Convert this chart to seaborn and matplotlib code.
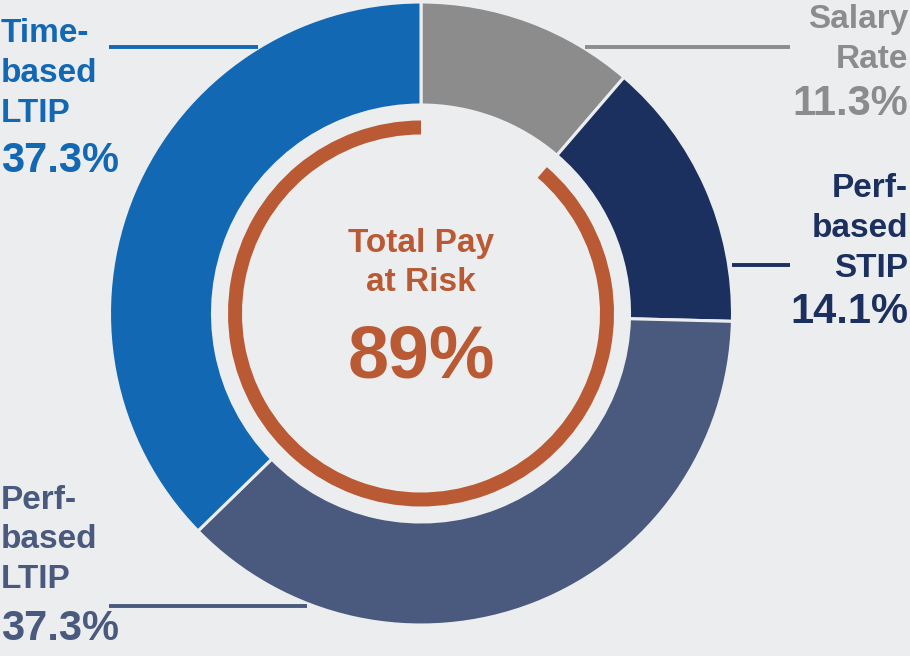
import numpy as np
import pandas as pd
import seaborn as sns
import matplotlib.pyplot as plt

# -----------------------------
# Data
# -----------------------------
SEGMENTS = ["Salary Rate", "Perf-based STIP", "Perf-based LTIP", "Time-based LTIP"]
SHARES = [11.3, 14.1, 37.3, 37.3]
PAY_AT_RISK = 89
COLORS = ["#8C8C8C", "#1B305E", "#495A7E", "#1368B4"]
RISK_COLOR = "#B95A35"
BG = "#ECEDEF"

df = pd.DataFrame({"segment": SEGMENTS, "share": SHARES, "color": COLORS})

# -----------------------------
# Style
# -----------------------------
sns.set_theme(style="white")
plt.rcParams["font.family"] = ["Liberation Sans", "DejaVu Sans"]
plt.rcParams["font.weight"] = "bold"

W, H = 910, 656
fig = plt.figure(figsize=(W / 100, H / 100), dpi=100, facecolor=BG)
ax = fig.add_axes([0, 0, 1, 1])
ax.set_facecolor(BG)
ax.set_xlim(0, W)
ax.set_ylim(0, H)
ax.set_aspect("equal")
ax.axis("off")

cx, cy = 421, H - 313.5
R_OUT, RING_W = 310, 100
EDGE = 2.2

# outer donut
ax.pie(
    df["share"],
    colors=df["color"],
    startangle=90,
    counterclock=False,
    center=(cx, cy),
    radius=R_OUT + 1.5,
    wedgeprops=dict(width=RING_W + 3, edgecolor=BG, linewidth=EDGE),
    frame=True,
)

# inner "pay at risk" arc
salary = df["share"].iloc[0]
ax.pie(
    [salary, 100 - salary],
    colors=["none", RISK_COLOR],
    startangle=90,
    counterclock=False,
    center=(cx, cy),
    radius=193,
    wedgeprops=dict(width=14, linewidth=0),
    frame=True,
)
ax.set_xlim(0, W)
ax.set_ylim(0, H)
ax.axis("off")


def y(px):
    return H - px


def label(lines, pct, x, baselines, pct_base, color, ha):
    for txt, b in zip(lines, baselines):
        ax.text(x, y(b), txt, ha=ha, va="baseline", fontsize=24,
                fontweight="bold", color=color)
    ax.text(x, y(pct_base), pct, ha=ha, va="baseline", fontsize=30,
            fontweight="bold", color=color)


def pct_str(v):
    return f"{v:.1f}%"


# labels
label(["Time-", "based", "LTIP"], pct_str(SHARES[3]), 1, [42, 82, 122], 172, COLORS[3], "left")
label(["Salary", "Rate"], pct_str(SHARES[0]), 908, [28, 68], 115, COLORS[0], "right")
label(["Perf-", "based", "STIP"], pct_str(SHARES[1]), 908, [197, 237, 277], 323, COLORS[1], "right")
label(["Perf-", "based", "LTIP"], pct_str(SHARES[2]), 1, [509, 548, 588], 640, COLORS[2], "left")

# leader lines
lw = 2.8
ax.plot([109, 258], [y(46.5), y(46.5)], color=COLORS[3], lw=lw, solid_capstyle="butt")
ax.plot([585, 790], [y(47), y(47)], color=COLORS[0], lw=lw, solid_capstyle="butt")
ax.plot([732, 790], [y(265), y(265)], color=COLORS[1], lw=lw, solid_capstyle="butt")
ax.plot([109, 307], [y(606), y(606)], color=COLORS[2], lw=lw, solid_capstyle="butt")

# center text
ax.text(cx, y(252), "Total Pay", ha="center", va="baseline", fontsize=24,
        fontweight="bold", color=RISK_COLOR)
ax.text(cx, y(291), "at Risk", ha="center", va="baseline", fontsize=24,
        fontweight="bold", color=RISK_COLOR)
ax.text(cx, y(377), f"{PAY_AT_RISK}%", ha="center", va="baseline", fontsize=53,
        fontweight="bold", color=RISK_COLOR)

fig.savefig("out.png", dpi=100, facecolor=BG)
